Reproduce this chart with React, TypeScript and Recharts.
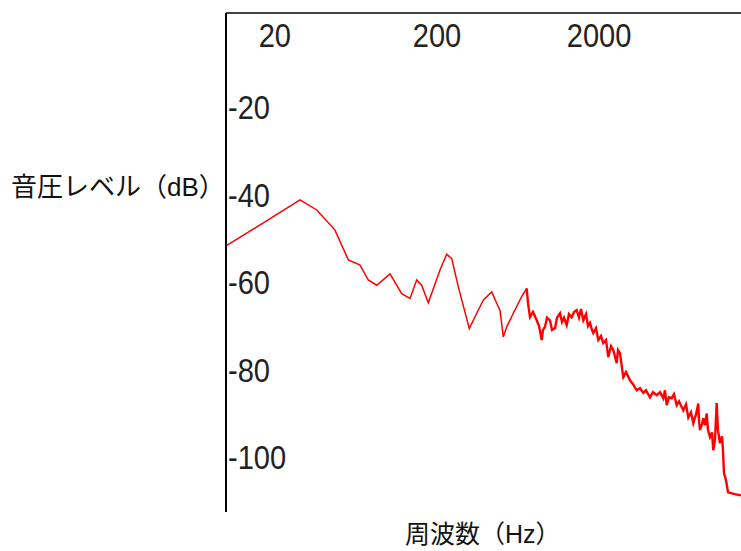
import React from 'react';
import { LineChart, Line, XAxis, YAxis, Label } from 'recharts';

// low band (thin part of the trace), Hz / dB
const lowFreq = [10, 16.9, 28.6, 36.3, 47.0, 56.8, 67.1, 75.4, 85.0, 102.7, 121.2, 136.4, 150.0, 161.0, 176.9, 208.8, 229.7, 246.6, 270.7, 316.6, 351.6, 386.2, 435.1, 467.0, 489.5, 513.0, 538.4, 591.4, 634.7, 666.1, 715.2];
const lowLevel = [-51.5, -46.3, -41.0, -43.3, -47.9, -54.7, -55.9, -59.3, -60.5, -57.9, -62.4, -63.5, -59.3, -60.5, -64.5, -57.0, -53.4, -54.4, -60.8, -70.4, -66.9, -63.9, -62.0, -64.6, -66.2, -72.3, -70.0, -66.9, -64.6, -63.1, -61.2];

// high band (noisy part of the trace)
const highFreq = [
  715.2, 728.6, 749.6, 782.3, 824.5, 851.9, 885.1, 901.6, 927.6, 954.3,
  995.7, 1024, 1069, 1100, 1148, 1181, 1215, 1262, 1304, 1355,
  1400, 1455, 1503, 1546, 1598, 1660, 1708, 1757, 1808, 1841,
  1913, 1977, 2054, 2122, 2206, 2279, 2368, 2446, 2567, 2615,
  2690, 2768, 2820, 2930, 3101, 3236, 3410, 3574, 3746, 3892,
  4119, 4299, 4530, 4748, 4976, 5097, 5222, 5395, 5606, 5792,
  6018, 6218, 6611, 6869, 7097, 7375, 7620, 7917, 8180, 8262,
  8380, 8622, 8782, 8997, 9217, 9388, 9659, 9935, 10120, 10367,
  10620, 10818, 11130, 11451, 11614, 11780, 12119, 12469, 13772, 15000,
];
const highLevel = [
  -61.2, -64.6, -67.8, -66.6, -68.5, -69.8, -73.0, -70.7, -70.0, -67.9,
  -68.5, -70.7, -70.3, -67.9, -66.9, -68.9, -67.9, -69.6, -67.1, -67.8,
  -66.6, -66.2, -67.9, -65.9, -68.5, -67.1, -69.8, -69.1, -70.7, -71.4,
  -70.3, -73.0, -72.1, -73.7, -73.0, -76.9, -74.4, -75.3, -78.3, -75.3,
  -76.0, -79.4, -81.5, -80.3, -82.2, -83.1, -84.5, -84.0, -85.1, -84.5,
  -86.1, -84.9, -85.6, -84.9, -86.3, -84.5, -87.9, -86.1, -86.3, -85.4,
  -87.9, -87.0, -89.1, -87.7, -90.7, -89.5, -92.0, -90.0, -87.5, -91.4,
  -93.6, -92.2, -90.9, -92.5, -89.8, -93.6, -95.2, -94.1, -98.2, -95.9,
  -87.4, -93.6, -96.6, -95.0, -98.2, -103.4, -105.0, -107.8, -108.2, -108.5,
];

const freqTicks = [20, 200, 2000];
const levelTicks = [-20, -40, -60, -80, -100];

const tickFont = '"Liberation Sans", Arial, sans-serif';
const titleFont = '"Noto Sans CJK JP", sans-serif';

const data = [
  ...lowFreq.map((f, i) => ({ f, low: lowLevel[i] })),
  ...highFreq.map((f, i) => ({ f, high: highLevel[i] })),
];

const FreqTick = (props: any) => {
  const { x, y, payload } = props;
  return (
    <g transform={`translate(${x},${y + 23})`}>
      <text transform="scale(0.88,1)" textAnchor="middle" dominantBaseline="central" fontSize={33} fontFamily={tickFont} fill="#222">
        {payload.value}
      </text>
    </g>
  );
};

const LevelTick = (props: any) => {
  const { x, y, payload } = props;
  return (
    <g transform={`translate(${x + 2},${y})`}>
      <text transform="scale(0.88,1)" textAnchor="start" dominantBaseline="central" fontSize={33} fontFamily={tickFont} fill="#222">
        {payload.value}
      </text>
    </g>
  );
};

const App = () => {
  return (
    <div style={{ position: 'absolute', left: 0, top: 0, background: '#fff' }}>
      <LineChart width={741} height={551} data={data} margin={{ top: 12, right: 0, left: 225, bottom: 39 }}>
        <XAxis
          dataKey="f"
          type="number"
          scale="log"
          domain={[10, 15000]}
          allowDataOverflow
          orientation="top"
          height={1}
          ticks={freqTicks}
          interval={0}
          tickSize={0}
          tickMargin={0}
          tickLine={false}
          axisLine={{ stroke: '#444', strokeWidth: 2 }}
          tick={<FreqTick />}
        >
          <Label
            content={() => (
              <text x={405} y={543} textAnchor="start" fontSize={25} fontFamily={titleFont} fill="#111">
                周波数（<tspan fontFamily={tickFont}>Hz</tspan>）
              </text>
            )}
          />
        </XAxis>
        <YAxis
          type="number"
          domain={[-112.3, 1.7]}
          allowDataOverflow
          width={1}
          ticks={levelTicks}
          interval={0}
          tickSize={0}
          tickMargin={0}
          tickLine={false}
          axisLine={{ stroke: '#000', strokeWidth: 2 }}
          tick={<LevelTick />}
        >
          <Label
            content={() => (
              <text x={11} y={196} textAnchor="start" fontSize={26} fontFamily={titleFont} fill="#111">
                音圧レベル（<tspan fontFamily={tickFont}>dB</tspan>）
              </text>
            )}
          />
        </YAxis>
        <Line dataKey="low" stroke="#ff0000" strokeWidth={1.5} dot={false} isAnimationActive={false} />
        <Line dataKey="high" stroke="#ff0000" strokeWidth={2.4} dot={false} isAnimationActive={false} />
      </LineChart>
    </div>
  );
};

export default App;
